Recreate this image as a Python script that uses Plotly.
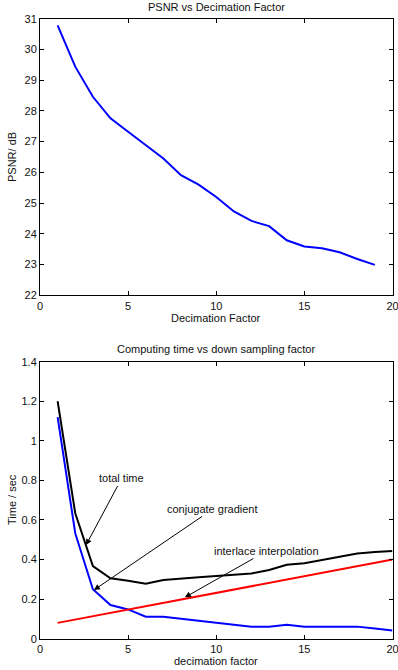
import plotly.graph_objects as go

# Top chart data
psnr_x = [1, 2, 3, 4, 5, 6, 7, 8, 9, 10, 11, 12, 13, 14, 15, 16, 17, 18, 19]
psnr_db = [30.78, 29.44, 28.46, 27.76, 27.32, 26.88, 26.45, 25.91, 25.60, 25.20,
           24.73, 24.42, 24.25, 23.79, 23.59, 23.53, 23.40, 23.18, 22.99]

# Bottom chart data
factor = [1, 2, 3, 4, 5, 6, 7, 8, 9, 10, 11, 12, 13, 14, 15, 16, 17, 18, 19, 20]
total_time = [1.20, 0.634, 0.367, 0.305, 0.293, 0.278, 0.297, 0.305, 0.310, 0.317,
              0.323, 0.330, 0.347, 0.374, 0.381, 0.398, 0.414, 0.431, 0.438, 0.443]
conj_grad = [1.12, 0.533, 0.250, 0.170, 0.148, 0.111, 0.111, 0.100, 0.090, 0.078,
             0.070, 0.061, 0.061, 0.071, 0.061, 0.061, 0.061, 0.061, 0.052, 0.042]
interlace = [0.080, 0.097, 0.114, 0.131, 0.147, 0.164, 0.181, 0.198, 0.215, 0.232,
             0.248, 0.265, 0.282, 0.299, 0.316, 0.333, 0.349, 0.366, 0.383, 0.400]

FONT = "Liberation Sans, Arial, sans-serif"
W, H = 398, 670

fig = go.Figure()
fig.add_trace(go.Scatter(x=psnr_x, y=psnr_db, mode="lines",
                         line=dict(color="#0000ff", width=2), xaxis="x", yaxis="y"))
fig.add_trace(go.Scatter(x=factor, y=total_time, mode="lines",
                         line=dict(color="#000000", width=2), xaxis="x2", yaxis="y2"))
fig.add_trace(go.Scatter(x=factor, y=conj_grad, mode="lines",
                         line=dict(color="#0000ff", width=2), xaxis="x2", yaxis="y2"))
fig.add_trace(go.Scatter(x=factor, y=interlace, mode="lines",
                         line=dict(color="#ff0000", width=2), xaxis="x2", yaxis="y2"))

def px_x(p):
    return p / W

def px_y(p):
    return 1 - p / H

xdom = [px_x(40), px_x(392.5)]
ydom1 = [px_y(295.3), px_y(18.7)]
ydom2 = [px_y(638.7), px_y(361.7)]
axis_common = dict(showgrid=False, zeroline=False, showline=True, linecolor="black",
                   linewidth=1, mirror="ticks", ticks="inside", ticklen=4,
                   automargin=False, ticklabeloverflow="allow",
                   tickcolor="black", tickfont=dict(family=FONT, size=11, color="#111"))

ticks2 = [0, 0.2, 0.4, 0.6, 0.8, 1.0, 1.2, 1.4]

fig.update_layout(
    template="none",
    width=W, height=H,
    margin=dict(l=0, r=0, t=0, b=0, pad=0),
    paper_bgcolor="white", plot_bgcolor="white",
    showlegend=False,
    font=dict(family=FONT, size=11, color="#111"),
    xaxis=dict(domain=xdom, range=[0, 20], tickvals=[0, 5, 10, 15, 20], anchor="y", **axis_common),
    yaxis=dict(domain=ydom1, range=[22, 31], tickvals=list(range(22, 32)), anchor="x", **axis_common),
    xaxis2=dict(domain=xdom, range=[0, 20], tickvals=[0, 5, 10, 15, 20], anchor="y2", **axis_common),
    yaxis2=dict(domain=ydom2, range=[0, 1.4], tickvals=ticks2,
                ticktext=["0", "0.2", "0.4", "0.6", "0.8", "1", "1.2", "1.4"],
                anchor="x2", **axis_common),
)

texts = [
    ("PSNR vs Decimation Factor", 216, 7, 0),
    ("Decimation Factor", 216, 318, 0),
    ("PSNR/ dB", 12, 157, -90),
    ("Computing time vs down sampling factor", 216, 349, 0),
    ("decimation factor", 216, 661, 0),
    ("Time / sec", 12, 500, -90),
]
for t, x, y, ang in texts:
    fig.add_annotation(text=t, x=px_x(x), y=px_y(y), xref="paper", yref="paper",
                       showarrow=False, textangle=ang, xanchor="center", yanchor="middle",
                       font=dict(family=FONT, size=11, color="#111"))

arrows = [
    ("total time", 2.61, 0.473, 35.7, -66.7),
    ("conjugate gradient", 3.06, 0.246, 119, -81),
    ("interlace interpolation", 8.22, 0.209, 81.7, -46.3),
]
for t, x, y, ax, ay in arrows:
    fig.add_annotation(text=t, x=x, y=y, xref="x2", yref="y2", ax=ax, ay=ay,
                       showarrow=True, arrowhead=2, arrowsize=1.2, arrowwidth=1,
                       arrowcolor="black", font=dict(family=FONT, size=11, color="#111"))

fig.write_html("out.html", config={"displayModeBar": False},
               post_script="document.body.style.margin='0';document.body.style.overflow='hidden';")
